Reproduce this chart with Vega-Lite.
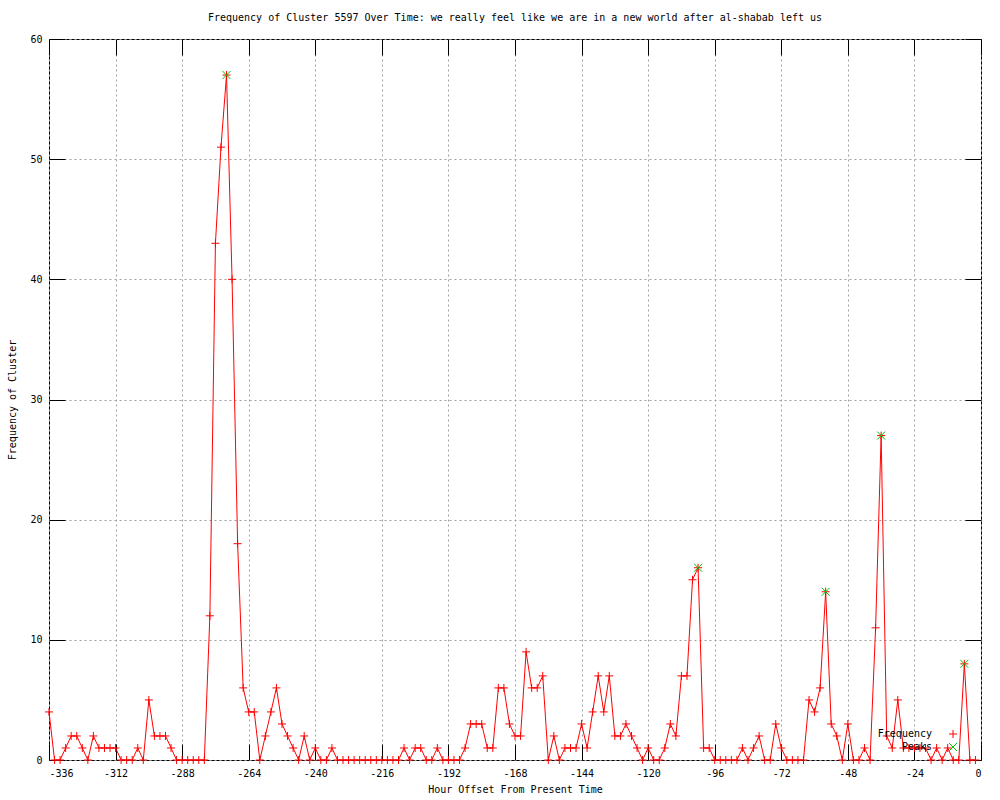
{
  "$schema": "https://vega.github.io/schema/vega-lite/v6.json",
  "width": 932,
  "height": 721,
  "autosize": {"type": "none"},
  "padding": {"left": 49, "top": 39, "right": 19, "bottom": 40},
  "background": "white",
  "title": {
    "text": "Frequency of Cluster 5597 Over Time: we really feel like we are in a new world after al-shabab left us",
    "font": "DejaVu Sans Mono",
    "fontSize": 10,
    "fontWeight": "normal",
    "color": "black",
    "anchor": "middle",
    "offset": 11
  },
  "config": {
    "view": {"stroke": "black", "strokeWidth": 1},
    "axis": {
      "labelFont": "DejaVu Sans Mono",
      "labelFontSize": 10,
      "labelColor": "black",
      "titleFont": "DejaVu Sans Mono",
      "titleFontSize": 10,
      "titleFontWeight": "normal",
      "titleColor": "black",
      "tickColor": "black",
      "domain": false,
      "gridColor": "#a0a0a0",
      "gridDash": [2, 3],
      "gridOpacity": 1
    }
  },
  "datasets": {
    "freq": [
      {"h": -336, "freq": 4}, {"h": -334, "freq": 0}, {"h": -332, "freq": 0}, {"h": -330, "freq": 1},
      {"h": -328, "freq": 2}, {"h": -326, "freq": 2}, {"h": -324, "freq": 1}, {"h": -322, "freq": 0},
      {"h": -320, "freq": 2}, {"h": -318, "freq": 1}, {"h": -316, "freq": 1}, {"h": -314, "freq": 1},
      {"h": -312, "freq": 1}, {"h": -310, "freq": 0}, {"h": -308, "freq": 0}, {"h": -306, "freq": 0},
      {"h": -304, "freq": 1}, {"h": -302, "freq": 0}, {"h": -300, "freq": 5}, {"h": -298, "freq": 2},
      {"h": -296, "freq": 2}, {"h": -294, "freq": 2}, {"h": -292, "freq": 1}, {"h": -290, "freq": 0},
      {"h": -288, "freq": 0}, {"h": -286, "freq": 0}, {"h": -284, "freq": 0}, {"h": -282, "freq": 0},
      {"h": -280, "freq": 0}, {"h": -278, "freq": 12}, {"h": -276, "freq": 43}, {"h": -274, "freq": 51},
      {"h": -272, "freq": 57}, {"h": -270, "freq": 40}, {"h": -268, "freq": 18}, {"h": -266, "freq": 6},
      {"h": -264, "freq": 4}, {"h": -262, "freq": 4}, {"h": -260, "freq": 0}, {"h": -258, "freq": 2},
      {"h": -256, "freq": 4}, {"h": -254, "freq": 6}, {"h": -252, "freq": 3}, {"h": -250, "freq": 2},
      {"h": -248, "freq": 1}, {"h": -246, "freq": 0}, {"h": -244, "freq": 2}, {"h": -242, "freq": 0},
      {"h": -240, "freq": 1}, {"h": -238, "freq": 0}, {"h": -236, "freq": 0}, {"h": -234, "freq": 1},
      {"h": -232, "freq": 0}, {"h": -230, "freq": 0}, {"h": -228, "freq": 0}, {"h": -226, "freq": 0},
      {"h": -224, "freq": 0}, {"h": -222, "freq": 0}, {"h": -220, "freq": 0}, {"h": -218, "freq": 0},
      {"h": -216, "freq": 0}, {"h": -214, "freq": 0}, {"h": -212, "freq": 0}, {"h": -210, "freq": 0},
      {"h": -208, "freq": 1}, {"h": -206, "freq": 0}, {"h": -204, "freq": 1}, {"h": -202, "freq": 1},
      {"h": -200, "freq": 0}, {"h": -198, "freq": 0}, {"h": -196, "freq": 1}, {"h": -194, "freq": 0},
      {"h": -192, "freq": 0}, {"h": -190, "freq": 0}, {"h": -188, "freq": 0}, {"h": -186, "freq": 1},
      {"h": -184, "freq": 3}, {"h": -182, "freq": 3}, {"h": -180, "freq": 3}, {"h": -178, "freq": 1},
      {"h": -176, "freq": 1}, {"h": -174, "freq": 6}, {"h": -172, "freq": 6}, {"h": -170, "freq": 3},
      {"h": -168, "freq": 2}, {"h": -166, "freq": 2}, {"h": -164, "freq": 9}, {"h": -162, "freq": 6},
      {"h": -160, "freq": 6}, {"h": -158, "freq": 7}, {"h": -156, "freq": 0}, {"h": -154, "freq": 2},
      {"h": -152, "freq": 0}, {"h": -150, "freq": 1}, {"h": -148, "freq": 1}, {"h": -146, "freq": 1},
      {"h": -144, "freq": 3}, {"h": -142, "freq": 1}, {"h": -140, "freq": 4}, {"h": -138, "freq": 7},
      {"h": -136, "freq": 4}, {"h": -134, "freq": 7}, {"h": -132, "freq": 2}, {"h": -130, "freq": 2},
      {"h": -128, "freq": 3}, {"h": -126, "freq": 2}, {"h": -124, "freq": 1}, {"h": -122, "freq": 0},
      {"h": -120, "freq": 1}, {"h": -118, "freq": 0}, {"h": -116, "freq": 0}, {"h": -114, "freq": 1},
      {"h": -112, "freq": 3}, {"h": -110, "freq": 2}, {"h": -108, "freq": 7}, {"h": -106, "freq": 7},
      {"h": -104, "freq": 15}, {"h": -102, "freq": 16}, {"h": -100, "freq": 1}, {"h": -98, "freq": 1},
      {"h": -96, "freq": 0}, {"h": -94, "freq": 0}, {"h": -92, "freq": 0}, {"h": -90, "freq": 0},
      {"h": -88, "freq": 0}, {"h": -86, "freq": 1}, {"h": -84, "freq": 0}, {"h": -82, "freq": 1},
      {"h": -80, "freq": 2}, {"h": -78, "freq": 0}, {"h": -76, "freq": 0}, {"h": -74, "freq": 3},
      {"h": -72, "freq": 1}, {"h": -70, "freq": 0}, {"h": -68, "freq": 0}, {"h": -66, "freq": 0},
      {"h": -64, "freq": 0}, {"h": -62, "freq": 5}, {"h": -60, "freq": 4}, {"h": -58, "freq": 6},
      {"h": -56, "freq": 14}, {"h": -54, "freq": 3}, {"h": -52, "freq": 2}, {"h": -50, "freq": 0},
      {"h": -48, "freq": 3}, {"h": -46, "freq": 0}, {"h": -44, "freq": 0}, {"h": -42, "freq": 1},
      {"h": -40, "freq": 0}, {"h": -38, "freq": 11}, {"h": -36, "freq": 27}, {"h": -34, "freq": 2},
      {"h": -32, "freq": 1}, {"h": -30, "freq": 5}, {"h": -28, "freq": 1}, {"h": -26, "freq": 1},
      {"h": -24, "freq": 1}, {"h": -22, "freq": 1}, {"h": -20, "freq": 1}, {"h": -18, "freq": 0},
      {"h": -16, "freq": 1}, {"h": -14, "freq": 0}, {"h": -12, "freq": 1}, {"h": -10, "freq": 0},
      {"h": -8, "freq": 0}, {"h": -6, "freq": 8}, {"h": -4, "freq": 0}, {"h": -2, "freq": 0}
    ],
    "peaks": [
      {"h": -272, "freq": 57}, {"h": -102, "freq": 16}, {"h": -56, "freq": 14},
      {"h": -36, "freq": 27}, {"h": -6, "freq": 8}
    ]
  },
  "layer": [
    {
      "data": {"name": "freq"},
      "mark": {"type": "line", "color": "#ff0000", "strokeWidth": 1},
      "encoding": {
        "x": {
          "field": "h", "type": "quantitative",
          "scale": {"domain": [-336, 0], "nice": false, "zero": false},
          "axis": {
            "orient": "bottom",
            "values": [-336, -312, -288, -264, -240, -216, -192, -168, -144, -120, -96, -72, -48, -24, 0],
            "grid": true, "tickSize": -16, "labelPadding": 24,
            "labelExpr": "'' + datum.value",
            "title": "Hour Offset From Present Time", "titlePadding": 6
          }
        },
        "y": {
          "field": "freq", "type": "quantitative",
          "scale": {"domain": [0, 60], "nice": false},
          "axis": {
            "orient": "left",
            "values": [0, 10, 20, 30, 40, 50, 60],
            "grid": true, "tickSize": -16, "labelPadding": 23,
            "title": "Frequency of Cluster", "titlePadding": 12
          }
        }
      }
    },
    {
      "data": {"name": "freq"},
      "mark": {"type": "point", "filled": false, "strokeWidth": 1, "size": 64, "opacity": 1},
      "encoding": {
        "x": {"field": "h", "type": "quantitative", "axis": null},
        "y": {"field": "freq", "type": "quantitative", "axis": null},
        "color": {
          "datum": "Frequency", "type": "nominal",
          "scale": {"domain": ["Frequency", "Peaks"], "range": ["#ff0000", "#00c000"]},
          "legend": {
            "orient": "none", "legendX": 899, "legendY": 690, "title": null,
            "labelFont": "DejaVu Sans Mono", "labelFontSize": 10, "labelColor": "black",
            "labelAlign": "right", "labelOffset": -26, "symbolStrokeWidth": 1, "symbolSize": 64,
            "rowPadding": 1
          }
        },
        "shape": {
          "datum": "Frequency", "type": "nominal",
          "scale": {"domain": ["Frequency", "Peaks"], "range": ["M-1,0H1M0,-1V1", "M-1,-1L1,1M-1,1L1,-1"]}
        }
      }
    },
    {
      "data": {"name": "peaks"},
      "mark": {"type": "point", "filled": false, "strokeWidth": 1, "size": 64, "opacity": 1},
      "encoding": {
        "x": {
          "field": "h", "type": "quantitative",
          "axis": {
            "orient": "top", "labels": false, "grid": false, "tickSize": -16, "title": null,
            "values": [-336, -312, -288, -264, -240, -216, -192, -168, -144, -120, -96, -72, -48, -24, 0]
          }
        },
        "y": {
          "field": "freq", "type": "quantitative",
          "axis": {
            "orient": "right", "labels": false, "grid": false, "tickSize": -16, "title": null,
            "values": [0, 10, 20, 30, 40, 50, 60]
          }
        },
        "color": {"datum": "Peaks", "type": "nominal"},
        "shape": {"datum": "Peaks", "type": "nominal"}
      }
    }
  ],
  "resolve": {"axis": {"x": "independent", "y": "independent"}}
}
